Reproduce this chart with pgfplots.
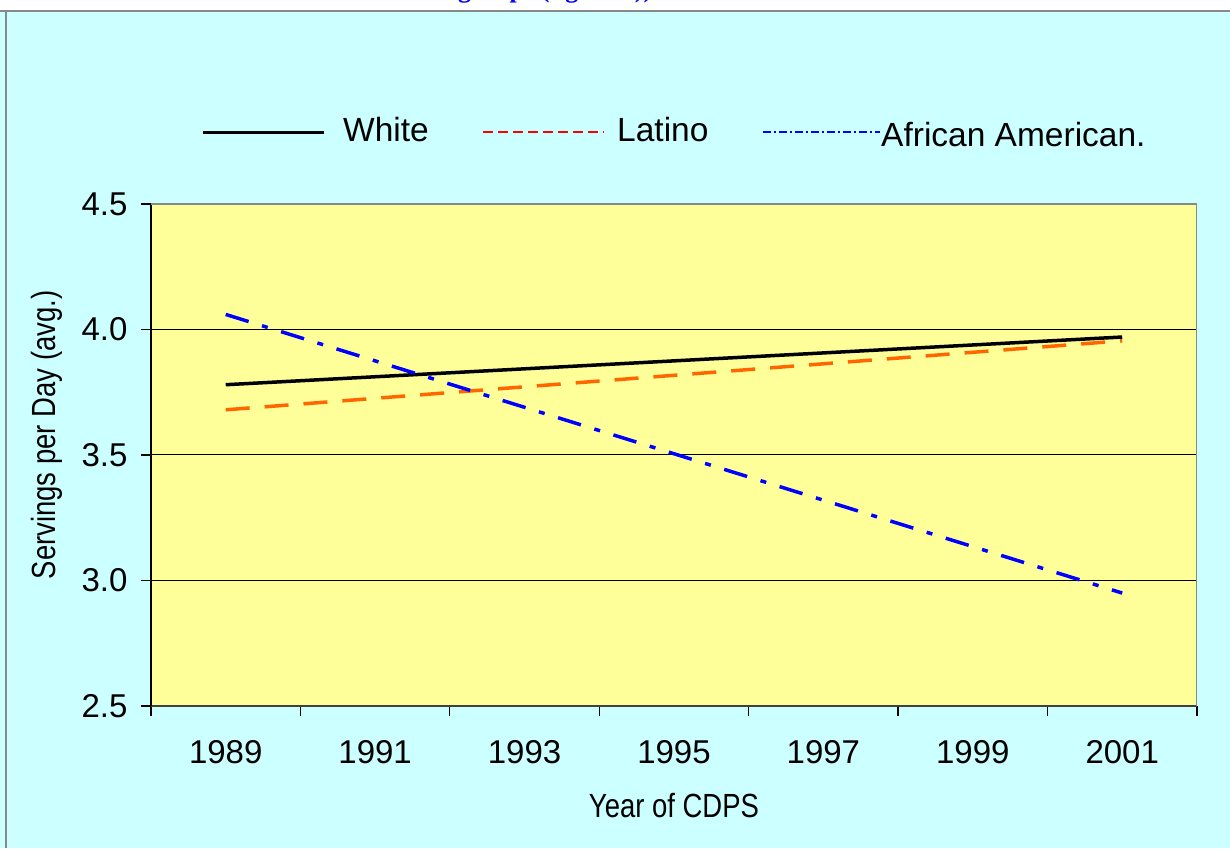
\documentclass[border=0pt]{standalone}
\usepackage{pgfplots}
\pgfplotsset{compat=1.18}
\usepackage{fontspec}
\setmainfont{Liberation Sans}
\newfontfamily\narrowfont[FakeStretch=0.82]{Liberation Sans}
\newfontfamily\titlefont{Liberation Serif}
\definecolor{bgcyan}{HTML}{CCFFFF}
\definecolor{plotyellow}{HTML}{FFFF99}
\definecolor{latorange}{HTML}{FF6600}
\definecolor{titleblue}{HTML}{0000FF}
\definecolor{framegray}{HTML}{888888}
\definecolor{axisgray}{HTML}{404040}

\begin{document}
\begin{tikzpicture}[x=1pt,y=1pt]
\useasboundingbox (0,0) rectangle (1230,848);
\fill[bgcyan] (0,0) rectangle (1230,848);
\fill[white] (0,837) rectangle (1230,848);
\draw[framegray, line width=1.5pt] (0,837) -- (1230,837);
\draw[framegray, line width=1.5pt] (6,0) -- (6,837);
\begin{scope}
\clip (0,0) rectangle (1230,848);
\node[anchor=base west, inner sep=0, text=titleblue, font=\titlefont\bfseries\fontsize{26}{30}\selectfont] at (458,850) {groups (figure 1))};
\end{scope}

\begin{axis}[
  at={(151pt,142pt)}, anchor=south west,
  scale only axis, width=1046pt, height=502pt,
  xmin=-0.5, xmax=6.5, ymin=2.5, ymax=4.5,
  xtick={-0.5,0.5,1.5,2.5,3.5,4.5,5.5,6.5},
  x tick label as interval,
  xticklabels={1989,1991,1993,1995,1997,1999,2001},
  ytick={2.5,3,3.5,4,4.5},
  yticklabels={2.5,3.0,3.5,4.0,4.5},
  axis x line*=bottom, axis y line*=left,
  x axis line style={draw=axisgray, line width=2pt},
  y axis line style={draw=black, line width=1.5pt},
  tick align=outside,
  major tick length=10pt,
  tick style={black, line width=1.2pt},
  ymajorgrids,
  major grid style={black, line width=1pt},
  tick label style={font=\fontsize{33}{38}\selectfont},
  xticklabel style={yshift=-21pt},
  yticklabel style={xshift=-10pt},
  xlabel={Year of CDPS},
  ylabel={Servings per Day (avg.)},
  label style={font=\narrowfont\fontsize{33.5}{38}\selectfont},
  xlabel style={at={(axis description cs:0.5,-0.223)}, anchor=base},
  ylabel style={at={(axis description cs:-0.0994,0.54)}, anchor=center},
  axis background/.style={fill=plotyellow},
]
\addplot[black, line width=3.5pt] coordinates {(0,3.78) (6,3.97)};
\addplot[latorange, line width=3.5pt, dash pattern=on 24pt off 15pt] coordinates {(0,3.68) (6,3.955)};
\addplot[blue, line width=3.5pt, dash pattern=on 24pt off 14pt on 6pt off 14pt] coordinates {(0,4.06) (6,2.95)};
\draw[framegray, line width=2pt] (rel axis cs:0,1) -- (rel axis cs:1,1) -- (rel axis cs:1,0);
\end{axis}

\begin{scope}[every node/.style={anchor=base west, inner sep=0, font=\fontsize{33.5}{38}\selectfont}]
\draw[black, line width=3pt] (203,715) -- (324,715);
\node at (343,706) {White};
\draw[red, line width=2pt, dash pattern=on 10pt off 5pt] (483,716) -- (604,716);
\node at (617,706) {Latino};
\draw[blue, line width=2pt, dash pattern=on 8pt off 3pt on 2pt off 3pt] (763,716) -- (880,716);
\node at (881,701) {African American.};
\end{scope}
\end{tikzpicture}
\end{document}
